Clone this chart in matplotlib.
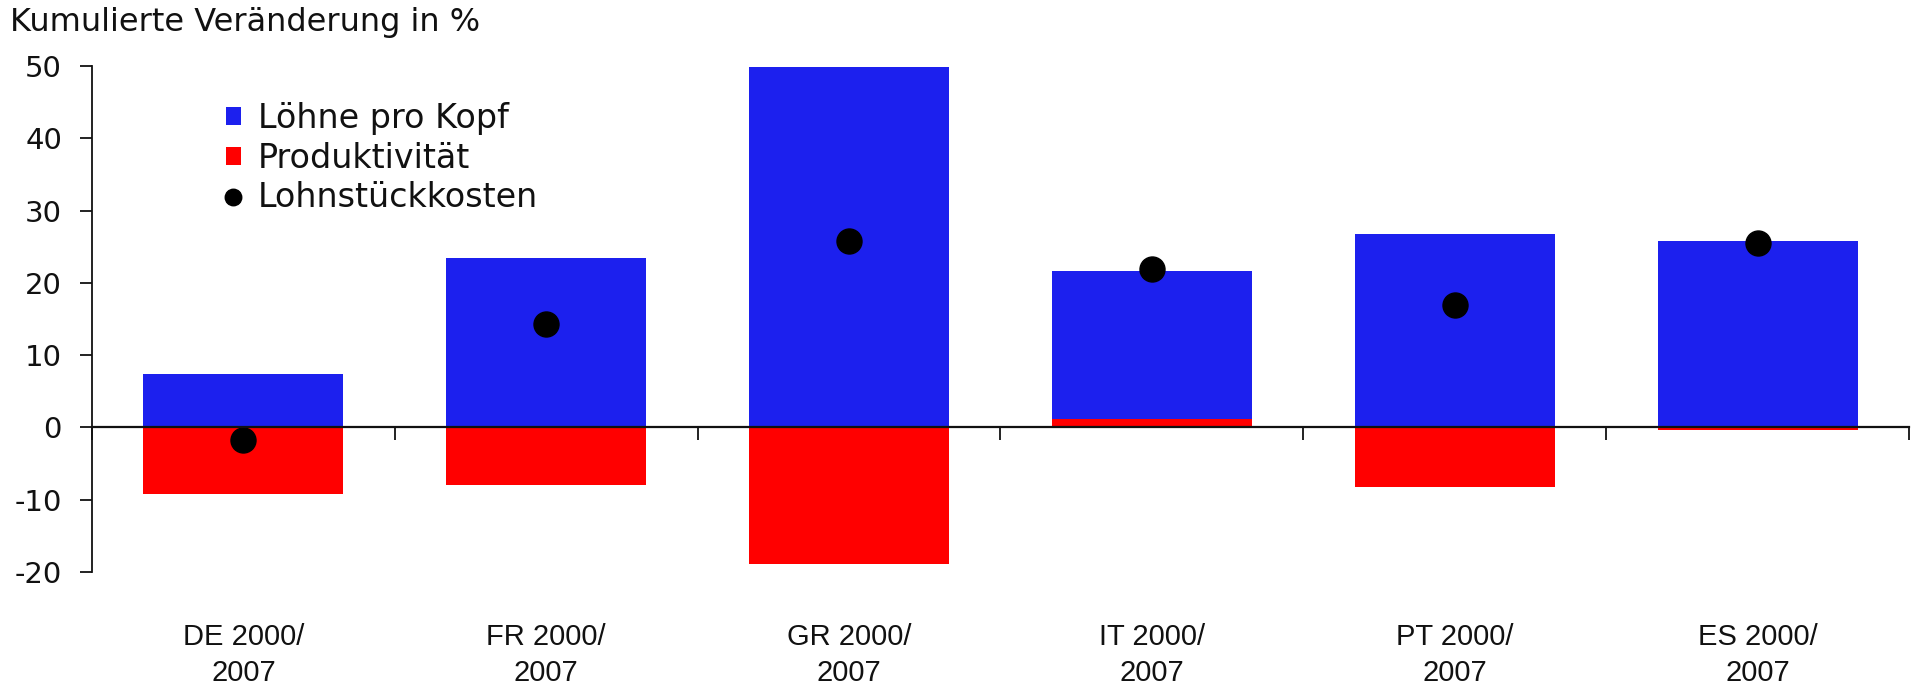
import numpy as np
import matplotlib
matplotlib.use("Agg")
import matplotlib.pyplot as plt

categories = ["DE 2000/\n2007", "FR 2000/\n2007", "GR 2000/\n2007",
              "IT 2000/\n2007", "PT 2000/\n2007", "ES 2000/\n2007"]
loehne = [7.4, 23.4, 49.8, 21.6, 26.8, 25.8]
produktivitaet = [-9.2, -7.9, -18.9, 1.1, -8.2, -0.4]
lohnstueckkosten = [-1.8, 14.3, 25.8, 21.9, 17.0, 25.5]
yticks = [-20, -10, 0, 10, 20, 30, 40, 50]

BLUE = "#1c20ee"
RED = "#ff0000"

plt.rcParams['font.family'] = ['DejaVu Sans']
plt.rcParams['axes.unicode_minus'] = False
NARROW = ['Liberation Sans', 'DejaVu Sans']

fig = plt.figure(figsize=(19.15, 6.86), dpi=100)
ax = fig.add_axes([92/1915, 1-572/686, (1909-92)/1915, (572-66)/686])

x = np.arange(len(categories))
w = 0.66
b1 = ax.bar(x, loehne, width=w, color=BLUE, zorder=2, label="Löhne pro Kopf")
b2 = ax.bar(x, produktivitaet, width=w, color=RED, zorder=3, label="Produktivität")
d, = ax.plot(x, lohnstueckkosten, linestyle="none", marker="o", color="black",
             markersize=18, zorder=5, label="Lohnstückkosten")

ax.set_xlim(-0.5, len(categories) - 0.5)
ax.set_ylim(-20, 50)
ax.set_yticks(yticks)
ax.tick_params(axis="y", direction="out", length=8.6, width=1.3, labelsize=21, pad=13,
               colors="#111111")
ax.spines["left"].set_linewidth(1.3)
ax.spines["left"].set_color("#111111")
for s in ["top", "right", "bottom"]:
    ax.spines[s].set_visible(False)

ax.set_xticks(x)
ax.set_xticklabels(categories, fontsize=21, family=NARROW, linespacing=1.36,
                   color="#111111")
ax.tick_params(axis="x", length=0, pad=37)

sec = ax.secondary_xaxis(0, transform=ax.transData)
sec.set_xticks(np.arange(len(categories) + 1) - 0.5)
sec.set_xticklabels([])
sec.tick_params(direction="out", length=9, width=1.3, colors="#111111")
sec.spines["bottom"].set_linewidth(1.6)
sec.spines["bottom"].set_color("#111111")
sec.set_zorder(6)

fig.text(10/1915, 1-22/686, "Kumulierte Veränderung in %", fontsize=23,
         ha="left", va="center", color="#111111")

leg = ax.legend(handles=[b1, b2, d], loc="upper left",
                bbox_to_anchor=(226/1915, 1-102/686), bbox_transform=fig.transFigure,
                frameon=False, fontsize=24, handlelength=0.45, handleheight=0.45,
                handletextpad=0.5, labelspacing=0.2, markerscale=0.66,
                borderpad=0, borderaxespad=0)
for t in leg.get_texts():
    t.set_color("#111111")

fig.savefig("out.png", dpi=100)
